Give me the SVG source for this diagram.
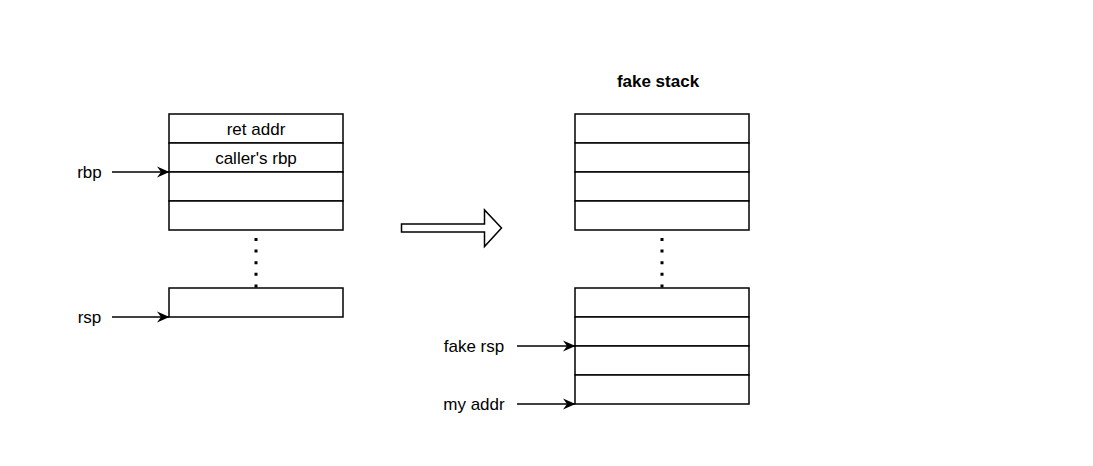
<svg xmlns="http://www.w3.org/2000/svg" width="1093" height="466" viewBox="0 0 1093 466">
<defs>
<style>
.cell{fill:#fff;stroke:#000;stroke-width:1.5}
.t{font-family:"Liberation Sans",Arial,sans-serif;font-size:17px;fill:#000}
.c{text-anchor:middle}
.b{font-weight:bold}
.ptr{stroke:#000;stroke-width:1.5;fill:none;marker-end:url(#ah)}
.dots{stroke:#000;stroke-width:3;stroke-dasharray:3 8.6;fill:none}
</style>
<marker id="ah" viewBox="0 0 13 12" refX="12" refY="6" markerWidth="13" markerHeight="12" markerUnits="userSpaceOnUse" orient="auto">
<path d="M0,0.5 L12.5,6 L0,11.5 L4,6 Z" fill="#000"/>
</marker>
</defs>
<rect width="1093" height="466" fill="#fff"/>

<g id="left-stack">
<rect class="cell" x="169" y="114" width="174" height="29"/>
<rect class="cell" x="169" y="143" width="174" height="29"/>
<rect class="cell" x="169" y="172" width="174" height="29"/>
<rect class="cell" x="169" y="201" width="174" height="29"/>
<text class="t c" x="256" y="134.5">ret addr</text>
<text class="t c" x="256" y="163.5">caller's rbp</text>
</g>
<g id="left-bottom">
<rect class="cell" x="169" y="288" width="174" height="29"/>
</g>

<g id="right-title"><text class="t c b" x="658" y="87">fake stack</text></g>
<g id="right-stack">
<rect class="cell" x="575" y="114" width="174" height="29"/>
<rect class="cell" x="575" y="143" width="174" height="29"/>
<rect class="cell" x="575" y="172" width="174" height="29"/>
<rect class="cell" x="575" y="201" width="174" height="29"/>
</g>
<g id="right-bottom">
<rect class="cell" x="575" y="288" width="174" height="29"/>
<rect class="cell" x="575" y="317" width="174" height="29"/>
<rect class="cell" x="575" y="346" width="174" height="29"/>
<rect class="cell" x="575" y="375" width="174" height="29"/>
</g>

<g id="labels">
<text class="t c" x="89.5" y="178">rbp</text>
<text class="t c" x="89.5" y="323">rsp</text>
<text class="t c" x="474" y="352">fake rsp</text>
<text class="t c" x="474" y="410">my addr</text>
</g>

<g id="big-arrow">
<path d="M401.5,224 L484.5,224 L484.5,210 L501.5,228 L484.5,246.5 L484.5,232 L401.5,232 Z" fill="#fff" stroke="#000" stroke-width="1.5"/>
</g>

<g id="connectors">
<line class="dots" x1="256" y1="238" x2="256" y2="288"/>
<line class="dots" x1="662" y1="238" x2="662" y2="288"/>
<line class="ptr" x1="112" y1="172" x2="169" y2="172"/>
<line class="ptr" x1="112" y1="317" x2="169" y2="317"/>
<line class="ptr" x1="517" y1="346" x2="575" y2="346"/>
<line class="ptr" x1="517" y1="404" x2="575" y2="404"/>
</g>
</svg>
